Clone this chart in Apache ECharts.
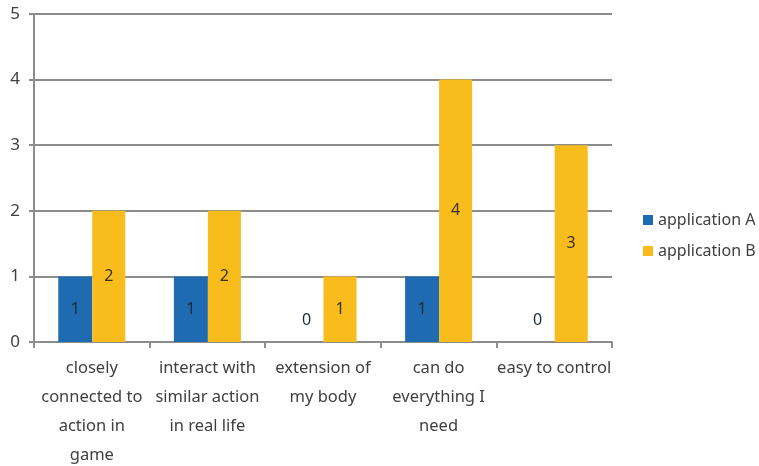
<!DOCTYPE html>
<html lang="en">
<head>
<meta charset="utf-8">
<title>application A vs B</title>
<style>
  html, body { margin: 0; padding: 0; background: #fff; }
  #chart { width: 759px; height: 466px; }
</style>
</head>
<body>
<div id="chart"></div>
<script src="https://cdn.jsdelivr.net/npm/echarts@6/dist/echarts.min.js"></script>
<script>
// data
var categories = [
  'closely\nconnected to\naction in\ngame',
  'interact with\nsimilar action\nin real life',
  'extension of\nmy body',
  'can do\neverything I\nneed',
  'easy to control'
];
var seriesNames = ['application A', 'application B'];
var valuesA = [1, 1, 0, 1, 0];
var valuesB = [2, 2, 1, 4, 3];
var yTicks = [0, 1, 2, 3, 4, 5];

var FONT = '"Noto Sans", "DejaVu Sans", sans-serif';
var TXT = '#404040';

// zero values get their label lifted above the baseline, like the original
function toItems(arr) {
  return arr.map(function (v) {
    if (v === 0) {
      return { value: v, label: { position: 'top', distance: 14 } };
    }
    return v;
  });
}

var chart = echarts.init(document.getElementById('chart'));
chart.setOption({
  animation: false,
  textStyle: { fontFamily: FONT },
  grid: { left: 34, right: 147, top: 14, bottom: 124, outerBoundsMode: 'none', containLabel: false },
  legend: {
    orient: 'vertical',
    left: 638,
    top: 207,
    itemWidth: 10,
    itemHeight: 10,
    itemGap: 15,
    icon: 'rect',
    textStyle: { fontSize: 16, color: TXT, fontFamily: FONT },
    data: seriesNames
  },
  xAxis: {
    type: 'category',
    data: categories,
    axisLine: { lineStyle: { color: '#8c8c8c', width: 2 } },
    axisTick: { show: true, length: 6, interval: 0, lineStyle: { color: '#8c8c8c', width: 2 } },
    axisLabel: {
      interval: 0,
      margin: 12,
      fontSize: 16.5,
      lineHeight: 29,
      color: TXT,
      fontFamily: FONT
    }
  },
  yAxis: {
    type: 'value',
    min: yTicks[0],
    max: yTicks[yTicks.length - 1],
    interval: 1,
    axisLine: { show: true, lineStyle: { color: '#8c8c8c', width: 2 } },
    axisTick: { show: true, length: 5, lineStyle: { color: '#8c8c8c', width: 2 } },
    splitLine: { lineStyle: { color: '#8c8c8c', width: 2 } },
    axisLabel: { fontSize: 17, color: TXT, margin: 14, fontFamily: FONT }
  },
  series: [
    {
      name: seriesNames[0],
      type: 'bar',
      data: toItems(valuesA),
      barWidth: 34,
      barGap: 0,
      itemStyle: { color: '#1f6bb1' },
      label: { show: true, position: 'inside', fontSize: 16, color: '#1a2a3a', fontFamily: FONT }
    },
    {
      name: seriesNames[1],
      type: 'bar',
      data: toItems(valuesB),
      barWidth: 33,
      barGap: 0,
      itemStyle: { color: '#f8bd1c' },
      label: { show: true, position: 'inside', fontSize: 16, color: '#3a3020', fontFamily: FONT }
    }
  ]
});
</script>
</body>
</html>
